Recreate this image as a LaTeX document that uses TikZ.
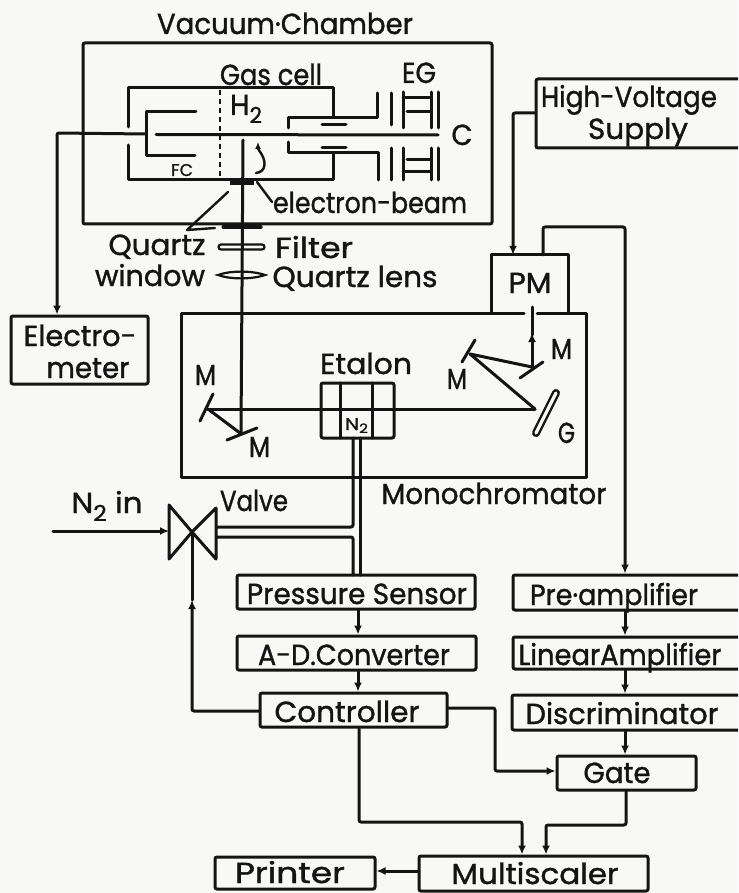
\documentclass[tikz,border=0pt]{standalone}
\usepackage{fontspec}
\usepackage{graphicx}
\setmainfont{Poppins}[FakeBold=1.2]
\usetikzlibrary{arrows.meta,calc}
\definecolor{ink}{HTML}{141414}
\definecolor{paper}{HTML}{F8F8F6}
\newcommand\fitw[2]{\resizebox{#1pt}{\height}{#2}}
\newcommand\subtwo{\raisebox{-8pt}{\fontsize{22}{22}\selectfont 2}}
\tikzset{
  px/.style={x=1pt,y=-1pt},
  wire/.style={draw=ink,line width=3pt,line join=round,line cap=round},
  thin wire/.style={draw=ink,line width=2.4pt,line join=round,line cap=round},
  tip/.style={-{Latex[length=9pt,width=8pt]}},
  frame/.style={draw=ink,line width=3pt,rounded corners=2pt,inner sep=0pt,fill=none},
  lab/.style={anchor=base,inner sep=0pt,text=ink,font=\fontsize{29}{29}\selectfont},
  small lab/.style={anchor=base,inner sep=0pt,text=ink,font=\fontsize{17}{17}\selectfont},
}
\newcommand\boxat[5]{\node[frame,minimum width=#4pt-#2pt,minimum height=#5pt-#3pt] (#1) at ({(#2+#4)/2},{(#3+#5)/2}) {};}
\begin{document}
\begin{tikzpicture}[px]
\useasboundingbox (0,0) rectangle (738,893);
\fill[paper] (0,0) rectangle (738,893);
\clip (0,0) rectangle (738,893);

% ---- boxes
\boxat{chamber}{83}{43}{492}{224}
\boxat{hv}{536}{79}{750}{148}
\node[inner sep=0pt,minimum width=76pt,minimum height=58pt] (pm) at (530,284) {};
\draw[wire] (pm.south west) -- (pm.north west) -- (pm.north east) -- (pm.south east);
\boxat{electro}{11}{316}{148}{384}
\boxat{etalon}{321}{383}{394}{438}
\boxat{pressure}{237}{575}{475}{609}
\boxat{adc}{237}{636}{476}{670}
\boxat{controller}{260}{693}{447}{727}
\boxat{preamp}{513}{575}{750}{610}
\boxat{linamp}{513}{637}{750}{669}
\boxat{disc}{512}{695}{750}{730}
\boxat{gate}{557}{756}{696}{790}
\boxat{multi}{419}{856}{648}{891}
\boxat{printer}{215}{857}{375}{889}

% ---- monochromator (open where the light enters)
\coordinate (mA) at (524,313); \coordinate (mB) at (537,313);
\draw[wire] (mA) -- (181,313) -- (181,477) -- (586,477) -- (586,313) -- (mB);

% ---- gas cell
\draw[wire] (128,127) -- (128,88) -- (333,88) -- (333,117);
\draw[wire] (128,145) -- (128,180) -- (333,180) -- (333,153);
\draw[thin wire,line cap=butt,dash pattern=on 5pt off 4pt] (220,90) -- (220,178);
% Faraday cup
\draw[wire] (196,112) -- (146,112) -- (146,156) -- (195,156);
% inner tube
\draw[wire] (288,128) -- (288,118) -- (377,118) -- (377,93);
\draw[wire] (288,142) -- (288,153) -- (378,153) -- (378,180);
\draw[wire] (322,125) -- (346,125);
\draw[wire] (322,148) -- (346,148);
% electron gun plates
\draw[wire] (391,93) -- (391,125);
\draw[wire] (391,148) -- (391,180);
\draw[wire] (403,128) -- (403,92);
\draw[wire] (431,128) -- (431,92);
\draw[wire] (403,98) -- (431,98);
\draw[wire] (407,112) -- (431,112);
\draw[wire] (438,92) -- (438,128);
\draw[wire] (403,148) -- (403,180);
\draw[wire] (431,148) -- (431,180);
\draw[wire] (407,160) -- (431,160);
\draw[wire] (403,172) -- (431,172);
\draw[wire] (438,148) -- (438,180);
% electron beam axis
\draw[wire] (156,134.5) -- (438,135);
% electron beam squiggle
\draw[thin wire,-{Latex[length=7pt,width=6pt]}] (256,173) .. controls (266,172) and (266,162) .. (262,155) .. controls (260,151) and (258,150) .. (258,142);
\draw[thin wire] (257,182) -- (272,202);
% windows
\draw[draw=ink,fill=ink,line width=1pt] (230,182) rectangle (253,185);
\draw[draw=ink,fill=ink,line width=1pt,rounded corners=1pt] (222,225.5) rectangle (262,228.5);
\draw[thin wire] (228,192) -- (187,230) -- (215,228);
% filter and lens
\node[draw=ink,line width=2.2pt,rounded corners=2.5pt,minimum width=46pt,minimum height=5pt,inner sep=0pt] (filter) at (241.5,247) {};
\draw[draw=ink,line width=2.2pt] (218,275) .. controls (230,270.5) and (252,270.5) .. (265,275) .. controls (252,279.5) and (230,279.5) .. (218,275) -- cycle;
% light path down
\draw[wire] (243,140) -- (241,432);
\draw[wire] (240,433) -- (208,409);
\draw[wire] (208,409) -- (535,409);
\draw[wire] (200,421) -- (213,394);
\draw[wire] (227,440) -- (257,428);
% right-hand optics
\draw[wire] (520,378) -- (543,362);
\draw[wire] (462,362) -- (475,340);
\draw[wire] (532,367) -- (470,354) -- (535,409);
\coordinate (pmLight) at (532,307);
\draw[wire,tip] (532,367) -- (532,333);
\draw[wire] (532,335) -- (pmLight);
\draw[draw=ink,line width=8pt,line cap=round] (556,393) -- (536,433);
\draw[draw=paper,line width=3.2pt,line cap=round] (556,393) -- (536,433);
% etalon
\draw[wire] (340,383) -- (340,438);
\draw[wire] (372,383) -- (372,438);

% ---- N2 pipes and valve
\node[inner sep=0pt,minimum size=0pt] (vc) at (192,532) {};
\coordinate (vlT) at (169,505); \coordinate (vlB) at (169,559);
\coordinate (vrT) at (216,508); \coordinate (vrB) at (216,559);
\draw[wire] (vc.center) -- (vlT) -- (vlB) -- cycle;
\draw[wire] (vc.center) -- (vrT) -- (vrB) -- cycle;
\coordinate (n2start) at (53,531);
\draw[wire,tip] (n2start) -- (169,531);
\draw[wire,rounded corners=2pt] (353,438) -- (353,527) -- (217,527);
\draw[wire,rounded corners=2pt] (217,537) -- (353,537) -- (353,575);
\draw[wire] (360,438) -- (360,575);

% ---- connectors
\coordinate (fcback) at (146,134);
\draw[wire,tip,rounded corners=2pt] (fcback) -- (57,133) -- (electro.north -| 57,0);
\draw[wire,tip,rounded corners=2pt] (hv.west |- 0,113) -- (513,113) -- (pm.north -| 513,0);
\draw[wire,rounded corners=2pt,tip] (pm.north -| 543,0) -- (543,227) -- (625,227) -- (preamp.north -| 625,0);
\draw[wire,tip] (pressure.south -| 358,0) -- (adc.north -| 358,0);
\draw[wire,tip] (adc.south -| 358,0) -- (controller.north -| 358,0);
\draw[wire,tip] (preamp.south -| 625,0) -- (linamp.north -| 625,0);
\draw[wire,tip] (linamp.south -| 625,0) -- (disc.north -| 625,0);
\draw[wire,tip] (disc.south -| 625,0) -- (gate.north -| 625,0);
\coordinate (vmid) at (192,600);
\draw[wire,rounded corners=2pt,tip] (controller.west |- 0,711) -- (192,711) -- (vmid);
\draw[wire] (vmid) -- (vc.center);
\draw[wire,tip,rounded corners=2pt] (controller.east |- 0,708) -- (495,708) -- (495,771) -- (gate.west |- 0,771);
\draw[wire,tip,rounded corners=2pt] (controller.south -| 359,0) -- (359,822) -- (522,822) -- (multi.north -| 522,0);
\draw[wire,tip,rounded corners=2pt] (gate.south -| 626,0) -- (626,825) -- (546,825) -- (multi.north -| 546,0);
\draw[wire,tip] (multi.west |- 0,871) -- (printer.east |- 0,871);

% ---- labels
\node[lab] (tVac) at (285,34) {\fitw{256}{Vacuum·Chamber}};
\node[lab] (tGas) at (271,85) {\fitw{102}{Gas cell}};
\node[lab] (tEG) at (419,83) {\fitw{34}{EG}};
\node[lab] (tH) at (246,115) {\fitw{32}{H\subtwo}};
\node[small lab] (tFC) at (182,176) {\fitw{22}{FC}};
\node[lab] (tC) at (462,145) {\fitw{21}{C}};
\node[lab] (tBeam) at (370,213) {\fitw{194}{electron-beam}};
\node[lab] (tQz) at (157,255) {\fitw{97}{Quartz}};
\node[lab] (tWin) at (150,286) {\fitw{110}{window}};
\node[lab] (tFil) at (314,258) {\fitw{78}{Filter}};
\node[lab] (tLens) at (355,287) {\fitw{165}{Quartz lens}};
\node[lab] (tHV1) at (629,107) {\fitw{176}{High-Voltage}};
\node[lab] (tHV2) at (638,139) {\fitw{100}{Supply}};
\node[lab] (tPM) at (530,293) {\fitw{43}{PM}};
\node[lab] (tE1) at (80,346) {\fitw{113}{Electro-}};
\node[lab] (tE2) at (88,378) {\fitw{83}{meter}};
\node[lab] (tEt) at (366,374) {\fitw{92}{Etalon}};
\node[small lab] (tN) at (356.5,430) {\fitw{23}{N\raisebox{-3pt}{\fontsize{13}{13}\selectfont 2}}};
\node[lab] (tM1) at (205.5,385) {\fitw{21}{M}};
\node[lab] (tM2) at (259.5,457) {\fitw{21}{M}};
\node[lab] (tM3) at (561.5,359) {\fitw{21}{M}};
\node[lab] (tM4) at (457,389) {\fitw{20}{M}};
\node[lab] (tG) at (566.5,443) {\fitw{17}{G}};
\node[lab] (tMono) at (494,504) {\fitw{225}{Monochromator}};
\node[lab] (tN2) at (107,513) {\fitw{71}{N\subtwo{} in}};
\node[lab] (tVal) at (254,511) {\fitw{68}{Valve}};
\node[lab] (tPS) at (357,604) {\fitw{220}{Pressure Sensor}};
\node[lab] (tAD) at (354,665) {\fitw{192}{A-D.Converter}};
\node[lab] (tCtl) at (347,722) {\fitw{145}{Controller}};
\node[lab] (tPre) at (614,605) {\fitw{168}{Pre·amplifier}};
\node[lab] (tLin) at (620,665) {\fitw{203}{LinearAmplifier}};
\node[lab] (tDis) at (622,724) {\fitw{193}{Discriminator}};
\node[lab] (tGate) at (617,783) {\fitw{67}{Gate}};
\node[lab] (tMul) at (535,884) {\fitw{167}{Multiscaler}};
\node[lab] (tPri) at (290,883) {\fitw{110}{Printer}};
\end{tikzpicture}
\end{document}
